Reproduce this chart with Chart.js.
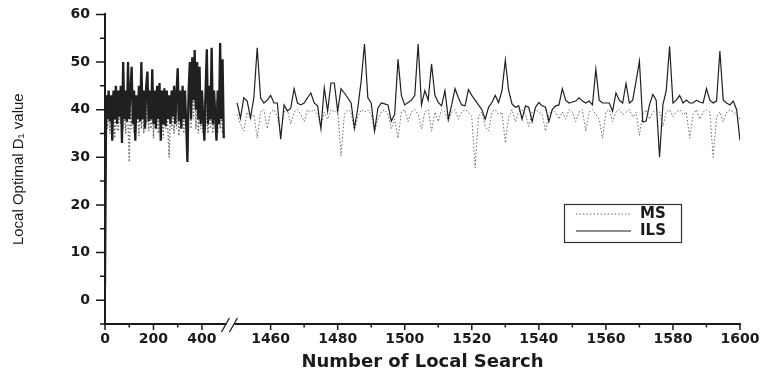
<!DOCTYPE html>
<html>
<head>
<meta charset="utf-8">
<script src="https://cdn.jsdelivr.net/npm/chart.js@4.4.1/dist/chart.umd.min.js"></script>
<style>
  html, body { margin: 0; padding: 0; background: #fff; }
</style>
</head>
<body>
<canvas id="chart" width="768" height="379"></canvas>
<script>
// first block of searches: 0..490, one reading every 5 searches
const seg1Start = 0;
const seg1Step = 5;
const ilsSeg1 = [
  3, 43, 38, 44, 37.5, 43, 33.5, 44, 38, 45,
  37, 44, 38.5, 45, 33, 50, 38, 44, 37.5, 50,
  38, 44, 49, 37, 44, 33.5, 43, 38, 45, 37.5,
  50, 38, 44, 36, 45, 48, 37.5, 44, 38, 48.5,
  37, 44, 36, 45, 38, 45.6, 33.5, 44, 37, 44.5,
  36.5, 44, 38, 43, 37, 44, 38.5, 45, 37, 43.5,
  48.7, 37.5, 44, 36, 45, 38, 44, 37, 29, 44,
  50, 38, 51, 42, 52.5, 40, 50, 38, 49, 37,
  44, 38, 33.5, 44, 52.7, 37, 45, 38, 53, 37,
  44, 38.5, 33.5, 44, 37, 54, 38, 50.6, 34
];
const msSeg1 = [
  30, 40, 36, 41, 35, 40, 37, 42, 34, 41,
  36, 35.5, 40, 37, 42, 36, 41, 35, 40, 37,
  29, 40, 36, 42, 35, 41, 37, 40, 34.5, 42,
  36, 41, 35, 40, 37, 42, 35.5, 40, 36, 41,
  34, 40, 37, 42, 35, 41, 36, 40, 34, 42,
  36, 40, 35, 30, 41, 36, 40, 35, 42, 36,
  41, 34.5, 40, 37, 42, 35, 40, 36, 32, 41,
  44, 36, 46, 38, 47, 36, 45, 35, 41, 36,
  40, 35, 42, 36, 40, 35, 44, 36, 41, 35,
  40, 36, 42, 35, 40, 36, 41, 35, 38
];

// second block of searches: 1450..1600, one reading per search
const seg2Start = 1450;
const ilsSeg2 = [
  41.4, 38.2, 42.5, 41.8, 38.3, 42.5, 53, 42.5, 41.4, 42,
  43, 41.4, 41.4, 33.8, 41, 39.7, 40.3, 44.4, 41.4, 41,
  41.4, 42.5, 43.5, 41.4, 40.8, 36, 44.6, 39.7, 45.6, 45.6,
  39.7, 44.4, 43.5, 42.5, 41.4, 36.2, 40.3, 46, 53.8, 42.5,
  41.4, 35.5, 40.3, 41.4, 41.2, 41, 37.6, 39, 50.6, 43,
  41, 41.5, 42, 43, 53.8, 41, 44, 42, 49.6, 43,
  41.5, 40.8, 44, 38, 41, 44.4, 42.5, 41, 40.8, 44.2,
  43, 42, 41, 40, 38, 40.5, 41.5, 43, 41.5, 44,
  50.4, 44, 41.2, 40.5, 40.8, 38, 40.8, 40.5, 37.5, 40.5,
  41.5, 40.8, 40.5, 37.5, 40, 40.8, 41, 44.4, 42, 41.4,
  41.6, 41.8, 42.5, 41.8, 41.4, 41.8, 41, 48.5, 42, 41.4,
  41.4, 41.4, 39.7, 43.5, 42, 41.4, 45.5, 41.4, 42, 46,
  50.2, 37.4, 37.6, 41, 43.2, 42, 30, 41, 44, 53.3,
  41.4, 42, 43, 41.4, 42, 41.4, 41.4, 42, 41.6, 41.4,
  44.4, 42, 41.4, 41.8, 52.3, 42, 41.4, 41, 41.8, 40,
  33.5
];
const msSeg2 = [
  39, 37, 35.5, 39.5, 38, 39, 34, 39.5, 40, 36,
  39.5, 40, 38.5, 35, 39.5, 40, 37, 39.5, 40, 39,
  37.5, 40, 39.5, 40, 39, 36.5, 39.5, 38, 40, 39.5,
  40, 30.3, 39, 40, 39.5, 35.5, 38.5, 40, 39.5, 40,
  39, 35.5, 38, 39.5, 40, 39, 36, 38, 34, 39.5,
  40, 37.5, 39.5, 40, 39, 36, 39.5, 40, 35.5, 39.5,
  37.5, 40, 39.5, 37.5, 39.5, 40, 38, 39.5, 40, 39.5,
  38.5, 27.8, 38.5, 39.5, 36.5, 35.5, 39.5, 40, 39, 39.5,
  33, 38.5, 40, 37.5, 39.5, 40, 39, 36.5, 39.5, 40,
  39.5, 39, 35.5, 39, 40, 39.5, 38, 39.5, 38, 40,
  39.5, 37.5, 39.5, 40, 35.5, 39.5, 40, 39, 38, 34,
  39.5, 40, 37.5, 39.5, 40, 39, 39.5, 40, 38.5, 39.5,
  34.6, 39, 40, 38, 39.5, 40, 39.5, 36.5, 39.5, 40,
  38.5, 39.5, 40, 39, 39.5, 34, 39, 40, 38, 39.5,
  40, 39.5, 30, 38.5, 39.5, 37.5, 39.5, 40, 39.5, 39,
  38
];

const xMajor = [0, 200, 400, 1460, 1480, 1500, 1520, 1540, 1560, 1580, 1600];
const xMinor = [100, 300, 1470, 1490, 1510, 1530, 1550, 1570, 1590];
const yMin = -5, yMax = 60;

// broken x axis: the first block is squeezed, the second gets one unit per search
const SQUEEZE = 0.0723;
const GAP_AT = 39.4;
function toAxis(n) {
  return n < 1000 ? n * SQUEEZE : GAP_AT + (n - seg2Start);
}

function points(seg1, seg2) {
  const pts = seg1.map((v, i) => ({ x: toAxis(seg1Start + i * seg1Step), y: v }));
  const lastN = seg1Start + (seg1.length - 1) * seg1Step;
  pts.push({ x: (toAxis(lastN) + GAP_AT) / 2, y: null });
  seg2.forEach((v, i) => pts.push({ x: toAxis(seg2Start + i), y: v }));
  return pts;
}

// the squeezed block is drawn heavier so it reads as the dense band of the original
const inFirstBlock = ctx => ctx.p1.parsed.x < GAP_AT;

const xTickList = [...xMajor, ...xMinor].sort((a, b) => a - b);
const tickFont = { family: 'DejaVu Sans', weight: 'bold', size: 14 };
const ink = '#1a1a1a';

// tick marks, axis break and the boxed legend
const decor = {
  id: 'decor',
  afterDraw(chart) {
    const c = chart.ctx;
    const xs = chart.scales.x, ys = chart.scales.y;
    const area = chart.chartArea;
    c.save();
    c.strokeStyle = ink;
    c.lineWidth = 1.5;
    c.beginPath();
    xTickList.forEach(n => {
      const px = xs.getPixelForValue(toAxis(n));
      const len = xMajor.includes(n) ? 6 : 3.5;
      c.moveTo(px, area.bottom);
      c.lineTo(px, area.bottom + len);
    });
    for (let v = yMin; v <= yMax; v += 5) {
      const py = ys.getPixelForValue(v);
      const len = v % 10 === 0 ? 9 : 5;
      c.moveTo(area.left, py);
      c.lineTo(area.left - len, py);
    }
    c.stroke();

    // break marks
    const bx = (xs.getPixelForValue(toAxis(490)) + xs.getPixelForValue(GAP_AT)) / 2;
    c.fillStyle = '#fff';
    c.fillRect(bx - 4, area.bottom - 2, 8, 4);
    c.lineWidth = 1.3;
    c.beginPath();
    c.moveTo(bx - 9, area.bottom + 8);
    c.lineTo(bx - 1, area.bottom - 6);
    c.moveTo(bx - 1, area.bottom + 8);
    c.lineTo(bx + 7, area.bottom - 6);
    c.stroke();

    // legend
    c.lineWidth = 1.2;
    c.strokeStyle = '#333';
    c.strokeRect(564.5, 204.5, 117, 38);
    [0, 1].forEach((di, k) => {
      const ds = chart.data.datasets[di];
      const y = 214 + k * 17;
      c.save();
      c.strokeStyle = ds.borderColor;
      c.lineWidth = ds.borderWidth;
      c.setLineDash(ds.borderDash || []);
      c.beginPath();
      c.moveTo(576, y);
      c.lineTo(631, y);
      c.stroke();
      c.restore();
      c.fillStyle = ink;
      c.font = 'bold 15px "DejaVu Sans"';
      c.textBaseline = 'middle';
      c.fillText(ds.label, 640, y);
    });
    c.restore();
  }
};

new Chart(document.getElementById('chart'), {
  type: 'line',
  data: {
    datasets: [
      {
        label: 'MS',
        data: points(msSeg1, msSeg2),
        borderColor: '#6a6a6a',
        borderWidth: 1,
        borderDash: [1.5, 2],
        pointRadius: 0,
        segment: { borderWidth: ctx => inFirstBlock(ctx) ? 1.4 : 1 },
        order: 2
      },
      {
        label: 'ILS',
        data: points(ilsSeg1, ilsSeg2),
        borderColor: '#202020',
        borderWidth: 1.2,
        pointRadius: 0,
        segment: { borderWidth: ctx => inFirstBlock(ctx) ? 2.3 : 1.2 },
        order: 1
      }
    ]
  },
  options: {
    responsive: false,
    animation: false,
    layout: { padding: { left: 0, right: 28, top: 13, bottom: 0 } },
    plugins: { legend: { display: false }, tooltip: { enabled: false } },
    scales: {
      x: {
        type: 'linear',
        min: 0,
        max: toAxis(1600),
        afterBuildTicks: s => { s.ticks = xTickList.map(n => ({ value: toAxis(n) })); },
        afterFit: s => { s.height = 55; },
        ticks: {
          autoSkip: false,
          maxRotation: 0,
          padding: 1,
          color: ink,
          font: tickFont,
          callback: (v, i) => xMajor.includes(xTickList[i]) ? String(xTickList[i]) : ''
        },
        grid: { drawOnChartArea: false, tickLength: 6, tickColor: 'rgba(0,0,0,0)' },
        border: { color: ink, width: 2 },
        title: {
          display: true,
          text: 'Number of Local Search',
          color: ink,
          font: { family: 'DejaVu Sans', weight: 'bold', size: 18 },
          padding: { top: 0, bottom: 6 }
        }
      },
      y: {
        min: yMin,
        max: yMax,
        afterFit: s => { s.width = 105; },
        ticks: {
          stepSize: 5,
          padding: 6,
          color: ink,
          font: tickFont,
          callback: v => v % 10 === 0 ? String(v) : ''
        },
        grid: { drawOnChartArea: false, tickLength: 9, tickColor: 'rgba(0,0,0,0)' },
        border: { color: ink, width: 2 },
        title: {
          display: true,
          text: 'Local Optimal D\u2081 value',
          color: ink,
          font: { family: '"Liberation Sans Narrow", "Liberation Sans", sans-serif', size: 15 },
          padding: { top: 10, bottom: 0 }
        }
      }
    }
  },
  plugins: [decor]
});
</script>
</body>
</html>
